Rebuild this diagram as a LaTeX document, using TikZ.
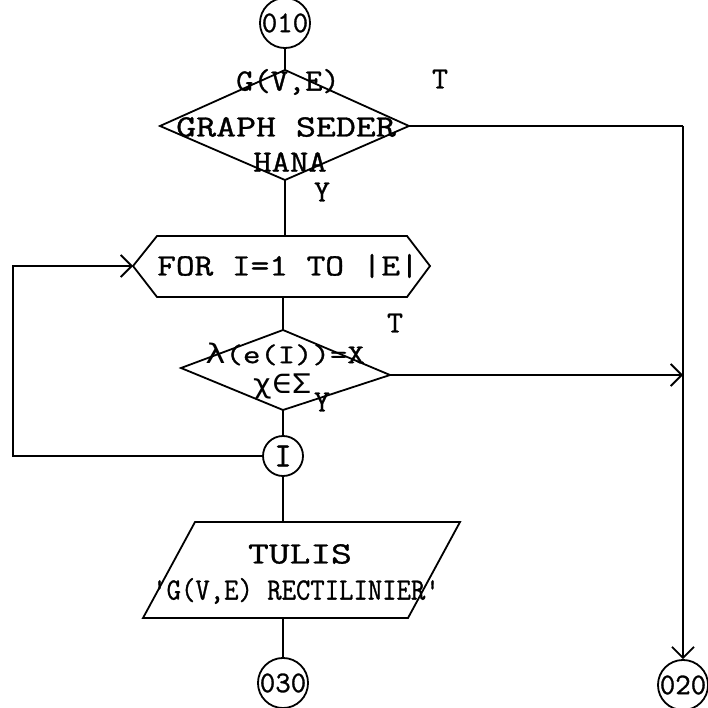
\documentclass[tikz,border=0pt]{standalone}
\usepackage{fontspec}
\newfontfamily\tyf[FakeBold=1]{Latin Modern Mono}
\newfontfamily\symf{DejaVu Sans Mono}
\usetikzlibrary{arrows.meta}
\newcommand\hs[2]{\scalebox{#1}[1]{#2}}
\begin{document}
\begin{tikzpicture}[x=1pt,y=-1pt, line width=1.8pt,
  txt/.style={font=\tyf\fontsize{31}{33}\selectfont, inner sep=0pt, anchor=center},
  txs/.style={font=\tyf\fontsize{27}{29}\selectfont, inner sep=0pt, anchor=center},
  lbl/.style={font=\tyf\fontsize{31}{33}\selectfont, inner sep=0pt},
  conncirc/.style={draw, circle, minimum size=44pt, inner sep=0pt, line width=1.8pt, font=\tyf\fontsize{30}{30}\selectfont},
  arr/.style={-{Straight Barb[length=11pt,width=22pt,line width=1.8pt]}}]
\useasboundingbox (0,0) rectangle (708,708);

% connectors (circles)
\node[conncirc] (c010) at (285,23) {010};
\node[conncirc] (c020) at (683,685) {020};
\node[conncirc] (c030) at (283,683) {030};
\node[conncirc, minimum size=40pt, font=\tyf\fontsize{34}{34}\selectfont] (cI) at (283,456) {I};

% decision 1
\coordinate (d1t) at (285,70);
\coordinate (d1r) at (409,126);
\coordinate (d1b) at (285,180);
\coordinate (d1l) at (160,126);
\draw (d1t) -- (d1r) -- (d1b) -- (d1l) -- cycle;
\node[txt] (d1a) at (288,82) {\hs{1.08}{G(V,E)}};
\node[txt] (d1c) at (286,127) {\hs{1.25}{GRAPH SEDER}};
\node[txt] (d1e) at (290,162) {\hs{1.15}{HANA}};
\node[lbl] (d1T) at (440,79) {T};
\node[lbl] (d1Y) at (322,192) {Y};

% loop (hexagon)
\coordinate (hl) at (133,266);
\coordinate (htl) at (157,236);
\coordinate (htr) at (407,236);
\coordinate (hr) at (430,266);
\coordinate (hbr) at (407,297);
\coordinate (hbl) at (157,297);
\coordinate (ht) at (285,236);
\coordinate (hb) at (283,297);
\draw (hl) -- (htl) -- (htr) -- (hr) -- (hbr) -- (hbl) -- cycle;
\node[txt] (hx) at (288,266) {\hs{1.17}{FOR I=1 TO |E|}};

% decision 2
\coordinate (d2t) at (283,330);
\coordinate (d2r) at (390,375);
\coordinate (d2b) at (283,410);
\coordinate (d2l) at (181,368);
\draw (d2t) -- (d2r) -- (d2b) -- (d2l) -- cycle;
\node[txs] (d2a) at (285,354) {\hs{1.25}{{\symf λ}(e(I))=X}};
\node[txs] (d2c) at (282,386) {\hs{1.2}{\symf χ∈Σ}};
\node[lbl] (d2T) at (395,323) {T};
\node[lbl] (d2Y) at (322,402) {Y};

% output (parallelogram)
\coordinate (pbl) at (143,618);
\coordinate (ptl) at (195,522);
\coordinate (ptr) at (460,522);
\coordinate (pbr) at (408,618);
\coordinate (pt) at (283,522);
\coordinate (pb) at (283,618);
\draw (pbl) -- (ptl) -- (ptr) -- (pbr) -- cycle;
\node[txt] (pa) at (300,554) {\hs{1.3}{TULIS}};
\node[txt] (pc) at (296,591) {\hs{0.9}{'G(V,E) RECTILINIER'}};

% corner points
\coordinate (k1) at (683,126);
\coordinate (k2) at (683,375);
\coordinate (k3) at (13,456);
\coordinate (k4) at (13,266);

% connectors
\draw (c010.south) -- (d1t);
\draw (d1b) -- (ht);
\draw (d1r) -- (k1);
\draw[arr] (k1) -- (c020.north);
\draw (hb) -- (d2t);
\draw[arr] (d2r) -- (k2);
\draw (d2b) -- (cI.north);
\draw[arr] (cI.west) -- (k3) -- (k4) -- (hl);
\draw (cI.south) -- (pt);
\draw (pb) -- (c030.north);
\end{tikzpicture}
\end{document}
